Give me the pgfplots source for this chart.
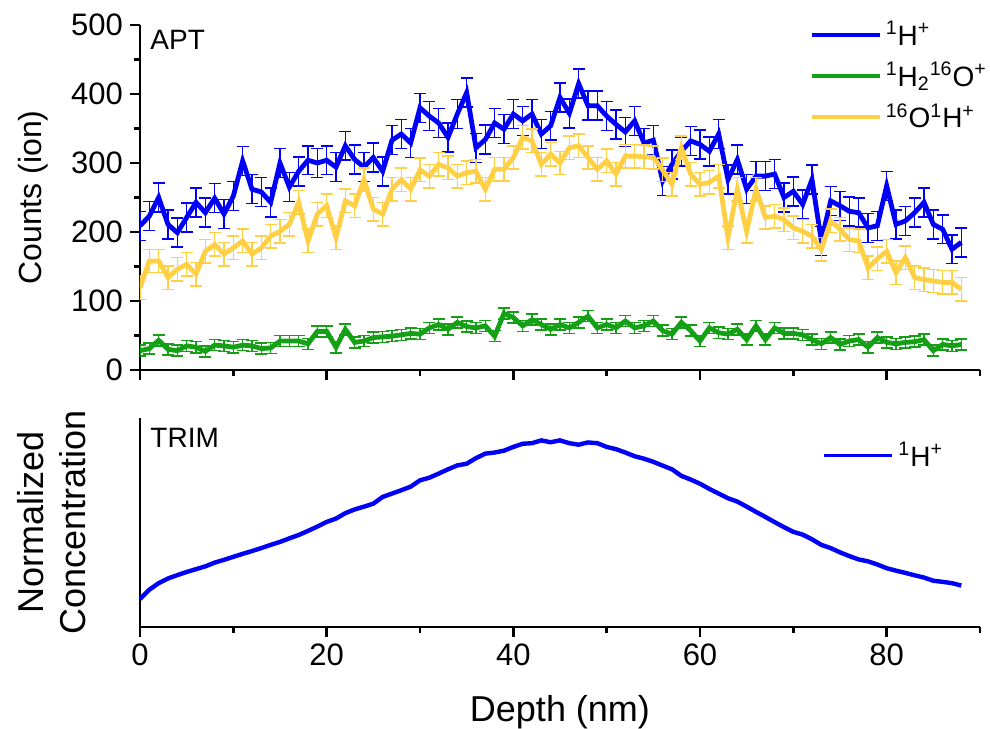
\documentclass[border=0pt]{standalone}
\usepackage{fontspec}
\setmainfont{Liberation Sans}
\usepackage{pgfplots}
\usepackage{pgfplotstable}
\pgfplotsset{compat=1.18}
\definecolor{hblue}{RGB}{0,0,250}
\definecolor{wgreen}{RGB}{20,160,20}
\definecolor{ohyel}{RGB}{255,208,70}
\newcommand\fticks{\fontsize{15.5}{17}\selectfont}
\newcommand\flab{\fontsize{18}{21}\selectfont}

% APT counts: depth, 1H+, 1H2 16O+, 16O 1H+
\pgfplotstableread{
d h w oh
0 209 28 119
1 223 31 158
2 250 43 158
3 211 30 134
4 199 28 146
5 221 35 153
6 243 33 139
7 228 27 172
8 249 36 182
9 226 35 168
10 252 33 177
11 303 36 187
12 262 35 168
13 258 31 177
14 243 32 194
15 300 42 201
16 265 42 211
17 288 42 243
18 304 38 187
19 300 56 226
20 304 56 238
21 294 33 192
22 325 59 245
23 305 40 238
24 294 42 276
25 308 47 233
26 288 48 226
27 333 49 262
28 342 51 276
29 329 53 262
30 380 52 290
31 368 61 281
32 358 66 298
33 337 59 293
34 371 69 281
35 402 63 286
36 322 61 288
37 334 64 262
38 358 49 291
39 349 82 291
40 371 76 308
41 361 64 337
42 371 73 332
43 342 66 298
44 354 59 313
45 395 66 300
46 372 61 322
47 415 69 325
48 383 78 308
49 383 61 291
50 368 66 303
51 356 61 284
52 345 71 310
53 361 61 310
54 329 64 309
55 333 71 308
56 274 57 290
57 298 52 269
58 317 69 322
59 332 57 284
60 327 42 269
61 317 61 272
62 342 54 281
63 276 52 192
64 305 59 262
65 262 44 201
66 281 64 262
67 281 44 221
68 284 61 223
69 250 53 218
70 259 53 206
71 240 51 201
72 276 44 194
73 187 38 175
74 245 47 216
75 238 37 204
76 230 42 189
77 228 44 187
78 206 33 148
79 209 47 161
80 267 40 172
81 211 38 141
82 216 40 163
83 228 41 134
84 243 44 131
85 211 28 129
86 204 37 127
87 175 35 127
88 185 37 117
}\apt

% TRIM normalized profile
\pgfplotstableread{
d c
0 0.15
1 0.20
2 0.235
3 0.26
4 0.278
5 0.295
6 0.31
7 0.325
8 0.345
9 0.36
10 0.376
11 0.392
12 0.407
13 0.423
14 0.44
15 0.456
16 0.475
17 0.493
18 0.515
19 0.538
20 0.563
21 0.581
22 0.61
23 0.63
24 0.645
25 0.661
26 0.697
27 0.715
28 0.733
29 0.752
30 0.786
31 0.80
32 0.822
33 0.845
34 0.866
35 0.875
36 0.905
37 0.929
38 0.935
39 0.945
40 0.965
41 0.982
42 0.985
43 1.0
44 0.99
45 1.0
46 0.985
47 0.977
48 0.989
49 0.985
50 0.965
51 0.953
52 0.935
53 0.915
54 0.902
55 0.885
56 0.865
57 0.845
58 0.81
59 0.79
60 0.768
61 0.74
62 0.715
63 0.69
64 0.672
65 0.645
66 0.617
67 0.59
68 0.562
69 0.535
70 0.51
71 0.495
72 0.47
73 0.44
74 0.423
75 0.40
76 0.38
77 0.362
78 0.352
79 0.335
80 0.315
81 0.302
82 0.29
83 0.277
84 0.265
85 0.248
86 0.242
87 0.235
88 0.222
}\trim

\pgfplotsset{
  panel/.style={
    scale only axis, width=420pt,
    xmin=0, xmax=90,
    axis x line*=bottom, axis y line*=left,
    axis line style={line width=1.2pt},
    every tick/.style={line width=1.2pt, black},
    tick align=outside, major tick length=5pt, minor tick length=3pt,
    xtick={0,20,...,80}, minor xtick={10,30,...,90},
    tick label style={font=\fticks},
    /pgf/number format/assume math mode=true,
    label style={font=\flab},
    legend style={draw=none, fill=none, font=\fontsize{14}{16}\selectfont, row sep=3pt},
    legend cell align=left,
    legend image code/.code={\draw[line width=1.9pt] (0pt,0pt) -- (34pt,0pt);},
  },
  ebar/.style={
    error bars/.cd, y dir=both, y explicit,
    error bar style={line width=0.75pt},
    error mark options={rotate=90, mark size=3pt, line width=0.75pt},
  },
}

\begin{document}
\begin{tikzpicture}
\useasboundingbox (-70pt,-179pt) rectangle (425pt,185pt);
\begin{axis}[panel,
  at={(0,0)}, anchor=south west, height=172.5pt,
  ymin=0, ymax=500,
  ytick={0,100,...,500}, minor ytick={50,150,...,450},
  xticklabels={},
  ylabel={Counts (ion)},
  ylabel style={font=\fontsize{16}{19}\selectfont, at={(axis description cs:-0.127,0.5)}, anchor=center},
  legend style={at={(0.79,1.035)}, anchor=north west},
]
\addplot[hblue, line width=2.4pt, ebar] table[x=d, y=h, y error expr=21] {\apt};
\addlegendentry{\textsuperscript{1}H\textsuperscript{+}}
\addplot[wgreen, line width=2.4pt, ebar] table[x=d, y=w, y error expr=8] {\apt};
\addlegendentry{\textsuperscript{1}H\textsubscript{2}\textsuperscript{16}O\textsuperscript{+}}
\addplot[ohyel, line width=2.4pt, ebar] table[x=d, y=oh, y error expr=17] {\apt};
\addlegendentry{\textsuperscript{16}O\textsuperscript{1}H\textsuperscript{+}}
\node[anchor=north west, inner sep=0pt, font=\fontsize{14}{16}\selectfont] at (rel axis cs:0.012,0.985) {APT};
\end{axis}
\begin{axis}[panel,
  at={(0,-128.5pt)}, anchor=south west, height=104.5pt,
  ymin=0, ymax=1.12, ytick=\empty,
  xlabel={Depth (nm)},
  xlabel style={at={(axis description cs:0.5,-0.407)}, anchor=center},
  ylabel={Normalized\\Concentration},
  ylabel style={align=center, at={(axis description cs:-0.105,0.5)}, anchor=center},
  legend style={at={(0.805,0.925)}, anchor=north west},
]
\addplot[hblue, line width=2.2pt] table[x=d, y=c] {\trim};
\addlegendentry{\textsuperscript{1}H\textsuperscript{+}}
\node[anchor=north west, inner sep=0pt, font=\fontsize{14}{16}\selectfont] at (rel axis cs:0.012,0.952) {TRIM};
\end{axis}
\end{tikzpicture}
\end{document}
